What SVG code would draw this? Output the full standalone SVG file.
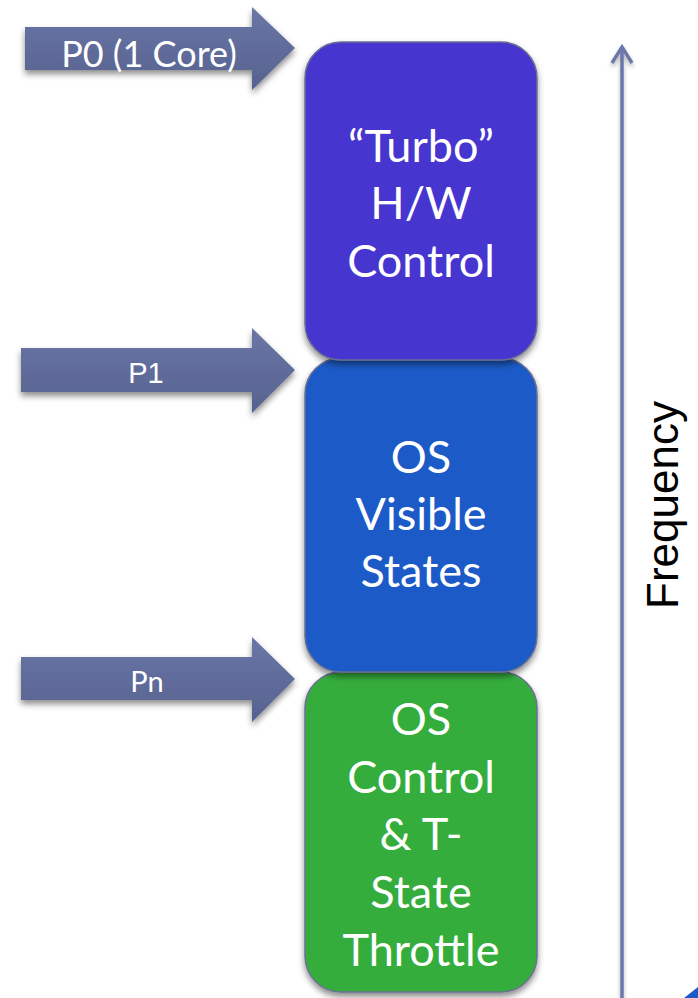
<svg xmlns="http://www.w3.org/2000/svg" width="698" height="998" viewBox="0 0 698 998">
  <defs>
    <linearGradient id="arrowFill" x1="0" y1="0" x2="0" y2="1">
      <stop offset="0" stop-color="#6a76a6"/>
      <stop offset="1" stop-color="#56628f"/>
    </linearGradient>
    <filter id="shadow" x="-10%" y="-10%" width="130%" height="130%">
      <feDropShadow dx="0" dy="4" stdDeviation="3" flood-color="#000" flood-opacity="0.45"/>
    </filter>
    <filter id="lineShadow" filterUnits="userSpaceOnUse" x="590" y="20" width="70" height="990">
      <feDropShadow dx="0" dy="3" stdDeviation="2" flood-color="#000" flood-opacity="0.3"/>
    </filter>
  </defs>
  <style>
    .box { stroke: #6b6f92; stroke-width: 1.5; filter: url(#shadow); }
    .boxText { font-family: Lato, "Liberation Sans", sans-serif; font-size: 45px; fill: #ffffff; text-anchor: middle; }
    .arrow { fill: url(#arrowFill); filter: url(#shadow); }
    .label { fill: #ffffff; text-anchor: middle; }
    .axis { stroke: #6b77a8; stroke-width: 3.5; fill: none; }
  </style>

  <rect width="698" height="998" fill="#ffffff"/>

  <!-- Frequency axis -->
  <g id="connectors" filter="url(#lineShadow)">
    <line class="axis" x1="622" y1="47" x2="622" y2="998"/>
    <polyline class="axis" points="612,63 622,47 632,63" stroke-linejoin="miter"/>
  </g>

  <!-- Corner of a shape running off the bottom-right edge -->
  <polygon points="684,998 698,987 698,998" fill="#1b5ac7"/>

  <!-- Bands, drawn bottom-up so each casts a shadow on the one below -->
  <g id="band-throttle">
    <rect class="box" x="305" y="672" width="232" height="320" rx="36" fill="#36ad3e"/>
    <text class="boxText" x="421" y="735">OS</text>
    <text class="boxText" x="421" y="793">Control</text>
    <text class="boxText" x="421" y="850">&amp; T-</text>
    <text class="boxText" x="421" y="908">State</text>
    <text class="boxText" x="421" y="966">Throttle</text>
  </g>

  <g id="band-os-visible">
    <rect class="box" x="305" y="358" width="232" height="314" rx="36" fill="#1b5ac7"/>
    <text class="boxText" x="421" y="473">OS</text>
    <text class="boxText" x="421" y="530">Visible</text>
    <text class="boxText" x="421" y="587">States</text>
  </g>

  <g id="band-turbo">
    <rect class="box" x="305" y="42" width="232" height="318" rx="36" fill="#4636cf"/>
    <text class="boxText" x="421" y="162">“Turbo”</text>
    <text class="boxText" x="421" y="219">H/W</text>
    <text class="boxText" x="421" y="277">Control</text>
  </g>

  <!-- State markers -->
  <g id="marker-p0">
    <polygon class="arrow" points="25,27 252,27 252,7 295,48 252,90 252,70 25,70"/>
    <text class="label" x="149" y="67" font-family="Lato, 'Liberation Sans', sans-serif" font-size="36">P0 (1 Core)</text>
  </g>

  <g id="marker-p1">
    <polygon class="arrow" points="21,348 252,348 252,328 295,370 252,413 252,392 21,392"/>
    <text class="label" x="146" y="383" font-family="'Liberation Sans', Arial, sans-serif" font-size="29">P1</text>
  </g>

  <g id="marker-pn">
    <polygon class="arrow" points="21,657 252,657 252,637 295,679 252,722 252,700 21,700"/>
    <text class="label" x="147" y="692" font-family="Lato, 'Liberation Sans', sans-serif" font-size="29">Pn</text>
  </g>

  <!-- Axis label -->
  <text id="axis-label" x="0" y="0" transform="translate(678,505) rotate(-90)" text-anchor="middle" font-family="'Liberation Sans', Arial, sans-serif" font-size="44" fill="#000000">Frequency</text>
</svg>
